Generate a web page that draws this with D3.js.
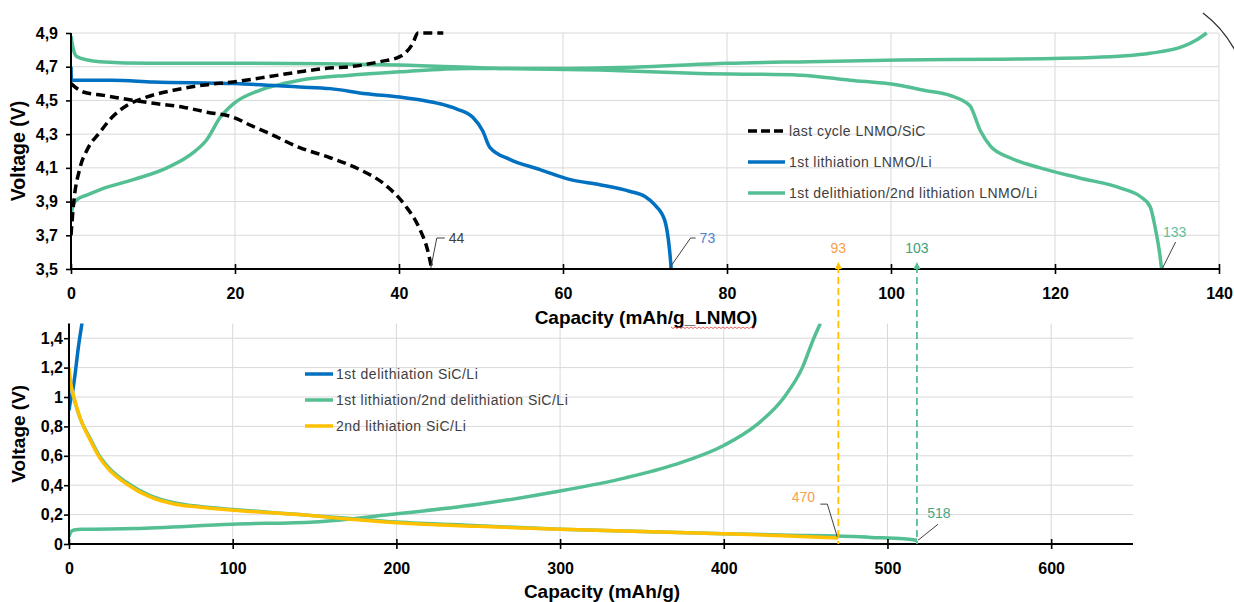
<!DOCTYPE html>
<html>
<head>
<meta charset="utf-8">
<script src="https://cdn.jsdelivr.net/npm/d3@7/dist/d3.min.js"></script>
<style>
  html, body { margin: 0; padding: 0; background: #ffffff; }
  svg { display: block; }
  text { font-family: "Liberation Sans", Arial, sans-serif; }
</style>
</head>
<body>
<svg id="chart" width="1234" height="602"></svg>
<script>
// ---------- Upper panel: LNMO cathode (capacity in mAh/g LNMO) ----------
const lnmoSicChargeCap = [0, 0.3, 1.1, 2, 3.5, 5, 6.8, 9.2, 12.5, 16, 19.8, 24, 27.9, 31, 34, 37.7, 40.1, 41.7, 42.3, 45.4];
const lnmoSicChargeV   = [3.70, 3.88, 4.10, 4.21, 4.31, 4.40, 4.47, 4.52, 4.56, 4.59, 4.61, 4.64, 4.67, 4.69, 4.70, 4.73, 4.76, 4.84, 4.90, 4.90];
const lnmoSicDischCap  = [0, 1.5, 4, 7.6, 10.5, 13.7, 16.6, 19.8, 22, 23.9, 27.9, 31.6, 35.2, 38.3, 40.7, 42.5, 43.5, 44];
const lnmoSicDischV    = [4.60, 4.55, 4.53, 4.50, 4.48, 4.46, 4.43, 4.40, 4.35, 4.31, 4.22, 4.16, 4.09, 4.00, 3.88, 3.74, 3.61, 3.50];

const lnmoLiLithCap = [0, 0.05, 5, 10, 20, 27.9, 31.6, 36, 40.1, 43, 45, 47, 49, 50.2, 51.1, 53.5, 57.2, 60.9, 64.5, 68.2, 70, 71.2, 72.4, 73, 73.2];
const lnmoLiLithV   = [4.70, 4.62, 4.62, 4.61, 4.60, 4.58, 4.57, 4.54, 4.52, 4.50, 4.48, 4.45, 4.40, 4.32, 4.22, 4.15, 4.09, 4.03, 4.00, 3.96, 3.93, 3.88, 3.79, 3.61, 3.50];

const lnmoLiDelithCap = [0, 0.2, 0.7, 2, 3.5, 7.6, 11.7, 14.9, 16.6, 18.2, 19.8, 23, 25.9, 27.9, 34, 40.1, 48.3, 60, 70, 80, 90, 101, 113.3, 124.6, 131.6, 135.6, 137.3, 138.5];
const lnmoLiDelithV   = [3.80, 3.87, 3.91, 3.94, 3.97, 4.03, 4.10, 4.19, 4.27, 4.40, 4.48, 4.56, 4.60, 4.62, 4.65, 4.67, 4.69, 4.69, 4.70, 4.72, 4.73, 4.74, 4.745, 4.755, 4.78, 4.82, 4.86, 4.90];
const lnmoLiRelithCap = [0, 0.3, 0.7, 2, 3.5, 9.6, 20, 40, 52.3, 64.5, 76.7, 88.9, 95, 101, 104, 107.2, 109.6, 110.9, 112.1, 114.5, 118.2, 123, 128, 130.4, 131.6, 132.2, 132.8, 133];
const lnmoLiRelithV   = [4.88, 4.80, 4.76, 4.74, 4.73, 4.72, 4.72, 4.71, 4.69, 4.68, 4.66, 4.65, 4.62, 4.59, 4.56, 4.53, 4.47, 4.32, 4.23, 4.16, 4.10, 4.04, 3.98, 3.93, 3.87, 3.75, 3.58, 3.50];

const topXTicks = [0, 20, 40, 60, 80, 100, 120, 140];
const topYTicks = [3.5, 3.7, 3.9, 4.1, 4.3, 4.5, 4.7, 4.9];
const topLegend = ["last cycle LNMO/SiC", "1st lithiation LNMO/Li", "1st delithiation/2nd lithiation LNMO/Li"];

// ---------- Lower panel: SiC anode (capacity in mAh/g) ----------
const sicDelithCap = [0, 1, 2.4, 4, 5.5, 7.9, 9.5];
const sicDelithV   = [0.91, 0.98, 1.05, 1.18, 1.32, 1.50, 1.62];

const sicLithCap = [0, 1, 3, 7, 12.8, 18, 25, 35, 49.5, 65, 80, 100, 141, 170, 200, 250, 300, 350, 400, 440, 470, 490, 510, 518];
const sicLithV   = [1.12, 1.08, 0.99, 0.85, 0.72, 0.61, 0.51, 0.42, 0.33, 0.28, 0.255, 0.235, 0.20, 0.175, 0.15, 0.125, 0.10, 0.085, 0.07, 0.06, 0.055, 0.045, 0.035, 0.025];
const sicDelith2Cap = [0, 1, 3, 8, 40, 100, 150, 196, 250, 300, 340, 370, 400, 420, 437, 448, 455, 459];
const sicDelith2V   = [0.05, 0.08, 0.095, 0.10, 0.105, 0.135, 0.15, 0.20, 0.27, 0.36, 0.45, 0.54, 0.67, 0.81, 1.00, 1.20, 1.40, 1.50];

const sicLith2Cap = [0, 1, 3, 7, 12.8, 18, 25, 35, 49.5, 65, 80, 100, 141, 170, 200, 250, 300, 350, 400, 440, 470];
const sicLith2V   = [1.20, 1.10, 1.00, 0.85, 0.71, 0.60, 0.50, 0.41, 0.32, 0.27, 0.25, 0.23, 0.20, 0.17, 0.145, 0.12, 0.10, 0.085, 0.07, 0.055, 0.04];

const botXTicks = [0, 100, 200, 300, 400, 500, 600];
const botYTicks = [0, 0.2, 0.4, 0.6, 0.8, 1, 1.2, 1.4];
const botLegend = ["1st delithiation SiC/Li", "1st lithiation/2nd delithiation SiC/Li", "2nd lithiation SiC/Li"];

// Capacity end points that are labelled
const endCapLnmo = [44, 73, 133];
const endCapSic  = [470, 518];
const fullCellCap = [93, 103];

const C_BLUE = "#0070c0", C_GREEN = "#55bf94", C_YELLOW = "#ffc000", C_BLACK = "#000000";
const C_GRID = "#d9d9d9", C_TEXT = "#404040";

const svg = d3.select("#chart");
svg.append("rect").attr("width", 1234).attr("height", 602).attr("fill", "#fff");

const xTop = d3.scaleLinear().domain([0, 140]).range([71, 1219]);
const yTop = d3.scaleLinear().domain([3.5, 4.9]).range([269, 33]);
const xBot = d3.scaleLinear().domain([0, 650]).range([69, 1133]);
const yBot = d3.scaleLinear().domain([0, 1.5]).range([544, 323.5]);

const commaFmt = d => String(+(+d).toFixed(1)).replace(".", ",");

const zip = (xs, ys) => xs.map((x, i) => [x, ys[i]]);

// clip regions for each plot area
const defs = svg.append("defs");
defs.append("clipPath").attr("id", "clipTop").append("rect")
  .attr("x", xTop(0)).attr("y", yTop(4.9) - 2).attr("width", xTop(140) - xTop(0) + 2).attr("height", yTop(3.5) - yTop(4.9) + 4);
defs.append("clipPath").attr("id", "clipBot").append("rect")
  .attr("x", xBot(0)).attr("y", yBot(1.5)).attr("width", xBot(650) - xBot(0)).attr("height", yBot(0) - yBot(1.5) + 2);

// ---------- gridlines ----------
const gTopGrid = svg.append("g");
gTopGrid.selectAll("line.v").data(topXTicks.filter(d => d > 0)).join("line")
  .attr("x1", d => xTop(d)).attr("x2", d => xTop(d)).attr("y1", yTop(4.9)).attr("y2", yTop(3.5))
  .attr("stroke", C_GRID).attr("stroke-width", 1);
gTopGrid.selectAll("line.h").data(topYTicks.filter(d => d > 3.5)).join("line")
  .attr("x1", xTop(0)).attr("x2", xTop(140)).attr("y1", d => yTop(d)).attr("y2", d => yTop(d))
  .attr("stroke", C_GRID).attr("stroke-width", 1);

const gBotGrid = svg.append("g");
gBotGrid.selectAll("line.v").data(botXTicks.filter(d => d > 0)).join("line")
  .attr("x1", d => xBot(d)).attr("x2", d => xBot(d)).attr("y1", yBot(1.5)).attr("y2", yBot(0))
  .attr("stroke", C_GRID).attr("stroke-width", 1);
gBotGrid.selectAll("line.h").data(botYTicks.filter(d => d > 0)).join("line")
  .attr("x1", xBot(0)).attr("x2", xBot(650)).attr("y1", d => yBot(d)).attr("y2", d => yBot(d))
  .attr("stroke", C_GRID).attr("stroke-width", 1);

// ---------- curves ----------
const lineTop = d3.line().x(d => xTop(d[0])).y(d => yTop(d[1])).curve(d3.curveMonotoneX);
const lineBot = d3.line().x(d => xBot(d[0])).y(d => yBot(d[1])).curve(d3.curveMonotoneX);

const gTop = svg.append("g").attr("clip-path", "url(#clipTop)");
function drawTop(data, color, dash) {
  const p = gTop.append("path").attr("d", lineTop(data)).attr("fill", "none")
    .attr("stroke", color).attr("stroke-width", 3.5).attr("stroke-linejoin", "round");
  if (dash) p.attr("stroke-dasharray", dash);
}
drawTop(zip(lnmoLiDelithCap, lnmoLiDelithV), C_GREEN);
drawTop(zip(lnmoLiRelithCap, lnmoLiRelithV), C_GREEN);
drawTop(zip(lnmoLiLithCap, lnmoLiLithV), C_BLUE);
drawTop(zip(lnmoSicChargeCap, lnmoSicChargeV), C_BLACK, "9,5");
drawTop(zip(lnmoSicDischCap, lnmoSicDischV), C_BLACK, "9,5");

const gBot = svg.append("g").attr("clip-path", "url(#clipBot)");
function drawBot(data, color) {
  gBot.append("path").attr("d", lineBot(data)).attr("fill", "none")
    .attr("stroke", color).attr("stroke-width", 3.5).attr("stroke-linejoin", "round");
}
drawBot(zip(sicDelithCap, sicDelithV), C_BLUE);
drawBot(zip(sicLithCap, sicLithV), C_GREEN);
drawBot(zip(sicDelith2Cap, sicDelith2V), C_GREEN);
drawBot(zip(sicLith2Cap, sicLith2V), C_YELLOW);

// ---------- axes ----------
function styleAxis(g) {
  g.select(".domain").remove();
  g.selectAll(".tick line").attr("stroke", "#000").attr("stroke-width", 1.6);
  g.selectAll(".tick text").attr("fill", "#000").attr("font-size", "16px").attr("font-weight", "bold")
    .attr("font-family", "'Liberation Sans', Arial, sans-serif");
}

const axTopX = svg.append("g").attr("transform", `translate(0,${yTop(3.5)})`)
  .call(d3.axisBottom(xTop).tickValues(topXTicks).tickSize(5).tickPadding(14).tickFormat(d3.format("d")));
styleAxis(axTopX);
axTopX.selectAll(".tick line").attr("y1", -5).attr("y2", 5);

const axTopY = svg.append("g").attr("transform", `translate(${xTop(0)},0)`)
  .call(d3.axisLeft(yTop).tickValues(topYTicks).tickSize(5).tickPadding(9).tickFormat(commaFmt));
styleAxis(axTopY);
axTopY.selectAll(".tick text").attr("x", -13);

const axBotX = svg.append("g").attr("transform", `translate(0,${yBot(0)})`)
  .call(d3.axisBottom(xBot).tickValues(botXTicks).tickSize(5).tickPadding(14).tickFormat(d3.format("d")));
styleAxis(axBotX);
axBotX.selectAll(".tick line").attr("y1", -5).attr("y2", 5);

const axBotY = svg.append("g").attr("transform", `translate(${xBot(0)},0)`)
  .call(d3.axisLeft(yBot).tickValues(botYTicks).tickSize(5).tickPadding(6).tickFormat(commaFmt));
styleAxis(axBotY);
axBotY.selectAll(".tick text").attr("x", -6);

// axis lines
svg.append("line").attr("x1", xTop(0)).attr("x2", xTop(140)).attr("y1", yTop(3.5)).attr("y2", yTop(3.5))
  .attr("stroke", "#000").attr("stroke-width", 2);
svg.append("line").attr("x1", xTop(0)).attr("x2", xTop(0)).attr("y1", yTop(4.9)).attr("y2", yTop(3.5))
  .attr("stroke", "#000").attr("stroke-width", 2);
svg.append("line").attr("x1", xBot(0)).attr("x2", xBot(650)).attr("y1", yBot(0)).attr("y2", yBot(0))
  .attr("stroke", "#000").attr("stroke-width", 2);
svg.append("line").attr("x1", xBot(0)).attr("x2", xBot(0)).attr("y1", yBot(1.5)).attr("y2", yBot(0))
  .attr("stroke", "#000").attr("stroke-width", 2);

// axis titles
svg.append("text").attr("transform", `translate(25,${(yTop(3.5) + yTop(4.9)) / 2}) rotate(-90)`)
  .attr("text-anchor", "middle").attr("font-size", "19.5px").attr("font-weight", "bold").attr("fill", "#000")
  .text("Voltage (V)");
svg.append("text").attr("transform", `translate(25,${(yBot(0) + yBot(1.5)) / 2 + 0}) rotate(-90)`)
  .attr("text-anchor", "middle").attr("font-size", "19px").attr("font-weight", "bold").attr("fill", "#000")
  .text("Voltage (V)");

svg.append("text").attr("x", 646).attr("y", 324).attr("text-anchor", "middle")
  .attr("font-size", "19px").attr("font-weight", "bold").attr("fill", "#000")
  .text("Capacity (mAh/g_LNMO)");
svg.append("text").attr("x", 602).attr("y", 598).attr("text-anchor", "middle")
  .attr("font-size", "19px").attr("font-weight", "bold").attr("fill", "#000")
  .text("Capacity (mAh/g)");

// spell-check squiggle under the unit
(function () {
  const x0 = 671, x1 = 756, yy = 327;
  let d = `M${x0},${yy}`;
  for (let x = x0 + 2, k = 1; x <= x1; x += 2, k++) d += ` L${x},${yy + (k % 2 ? 1.5 : 0)}`;
  svg.append("path").attr("d", d).attr("fill", "none").attr("stroke", "#e03c3c").attr("stroke-width", 0.8);
})();

// ---------- legends ----------
const gLegTop = svg.append("g");
const topLegStyle = [{ c: C_BLACK, dash: "9,4" }, { c: C_BLUE }, { c: C_GREEN }];
topLegend.forEach((t, i) => {
  const y = 131 + i * 31;
  const l = gLegTop.append("line").attr("x1", 748).attr("x2", 785).attr("y1", y).attr("y2", y)
    .attr("stroke", topLegStyle[i].c).attr("stroke-width", 3.5);
  if (topLegStyle[i].dash) l.attr("stroke-dasharray", topLegStyle[i].dash);
  gLegTop.append("text").attr("x", 789).attr("y", y + 5).attr("font-size", "14px")
    .attr("letter-spacing", "0.45px").attr("fill", C_TEXT).text(t);
});

const gLegBot = svg.append("g");
const botLegColors = [C_BLUE, C_GREEN, C_YELLOW];
botLegend.forEach((t, i) => {
  const y = 374 + i * 26;
  gLegBot.append("line").attr("x1", 305).attr("x2", 333).attr("y1", y).attr("y2", y)
    .attr("stroke", botLegColors[i]).attr("stroke-width", 3.5);
  gLegBot.append("text").attr("x", 336).attr("y", y + 5).attr("font-size", "14px")
    .attr("letter-spacing", "0.5px").attr("fill", C_TEXT).text(t);
});

// ---------- end-capacity callouts ----------
const gAnn = svg.append("g");
function leader(points) {
  gAnn.append("path").attr("d", d3.line()(points)).attr("fill", "none")
    .attr("stroke", "#404040").attr("stroke-width", 1);
}
function label(x, y, t, color, anchor) {
  gAnn.append("text").attr("x", x).attr("y", y).attr("dy", "0.35em").attr("text-anchor", anchor || "start")
    .attr("font-size", "14px").attr("fill", color).text(t);
}
// upper panel
{
  const base = yTop(3.5) - 1;
  const x44 = xTop(endCapLnmo[0]);
  leader([[x44 - 1, base], [x44 + 5, base - 30], [x44 + 13, base - 30]]);
  label(x44 + 17, base - 30, String(endCapLnmo[0]), C_TEXT);
  const x73 = xTop(endCapLnmo[1]);
  leader([[x73, base], [x73 + 21, base - 30], [x73 + 26, base - 30]]);
  label(x73 + 30, base - 30, String(endCapLnmo[1]), "#4f7fcf");
  const x133 = xTop(endCapLnmo[2]);
  leader([[x133 + 1, base], [x133 + 14, base - 26]]);
  label(x133 + 13, base - 36, String(endCapLnmo[2]), "#5fbf98", "middle");
}
// lower panel
{
  const x470 = xBot(endCapSic[0]), y470 = yBot(sicLith2V[sicLith2V.length - 1]);
  leader([[x470 - 1, y470 - 1], [x470 - 11, y470 - 34], [x470 - 18, y470 - 34]]);
  label(x470 - 35, y470 - 41, String(endCapSic[0]), "#f5a24c", "middle");
  const x518 = xBot(endCapSic[1]), y518 = yBot(sicLithV[sicLithV.length - 1]);
  leader([[x518 + 1, y518], [x518 + 21, y518 - 16]]);
  label(x518 + 22, y518 - 27, String(endCapSic[1]), "#4aa682", "middle");
}

// ---------- full-cell capacity markers linking both panels ----------
const markerColors = ["#ffc000", "#55bf94"];
const markerText = ["#f6a14f", "#3f9f7c"];
endCapSic.forEach((cap, i) => {
  const x = xBot(cap);
  const yTopEnd = yTop(3.5) - 7;
  svg.append("line").attr("x1", x).attr("x2", x).attr("y1", yTopEnd + 4).attr("y2", yBot(0))
    .attr("stroke", markerColors[i]).attr("stroke-width", 1.8).attr("stroke-dasharray", "7,4");
  svg.append("path").attr("d", `M${x},${yTopEnd} L${x - 3.5},${yTopEnd + 7} L${x + 3.5},${yTopEnd + 7} Z`)
    .attr("fill", markerColors[i]);
  label(x, yTopEnd - 14, String(fullCellCap[i]), markerText[i], "middle");
});

// stray arc in the corner
svg.append("path").attr("d", "M1203,13 Q1223,28 1236,52").attr("fill", "none")
  .attr("stroke", "#333").attr("stroke-width", 1.3);
</script>
</body>
</html>
